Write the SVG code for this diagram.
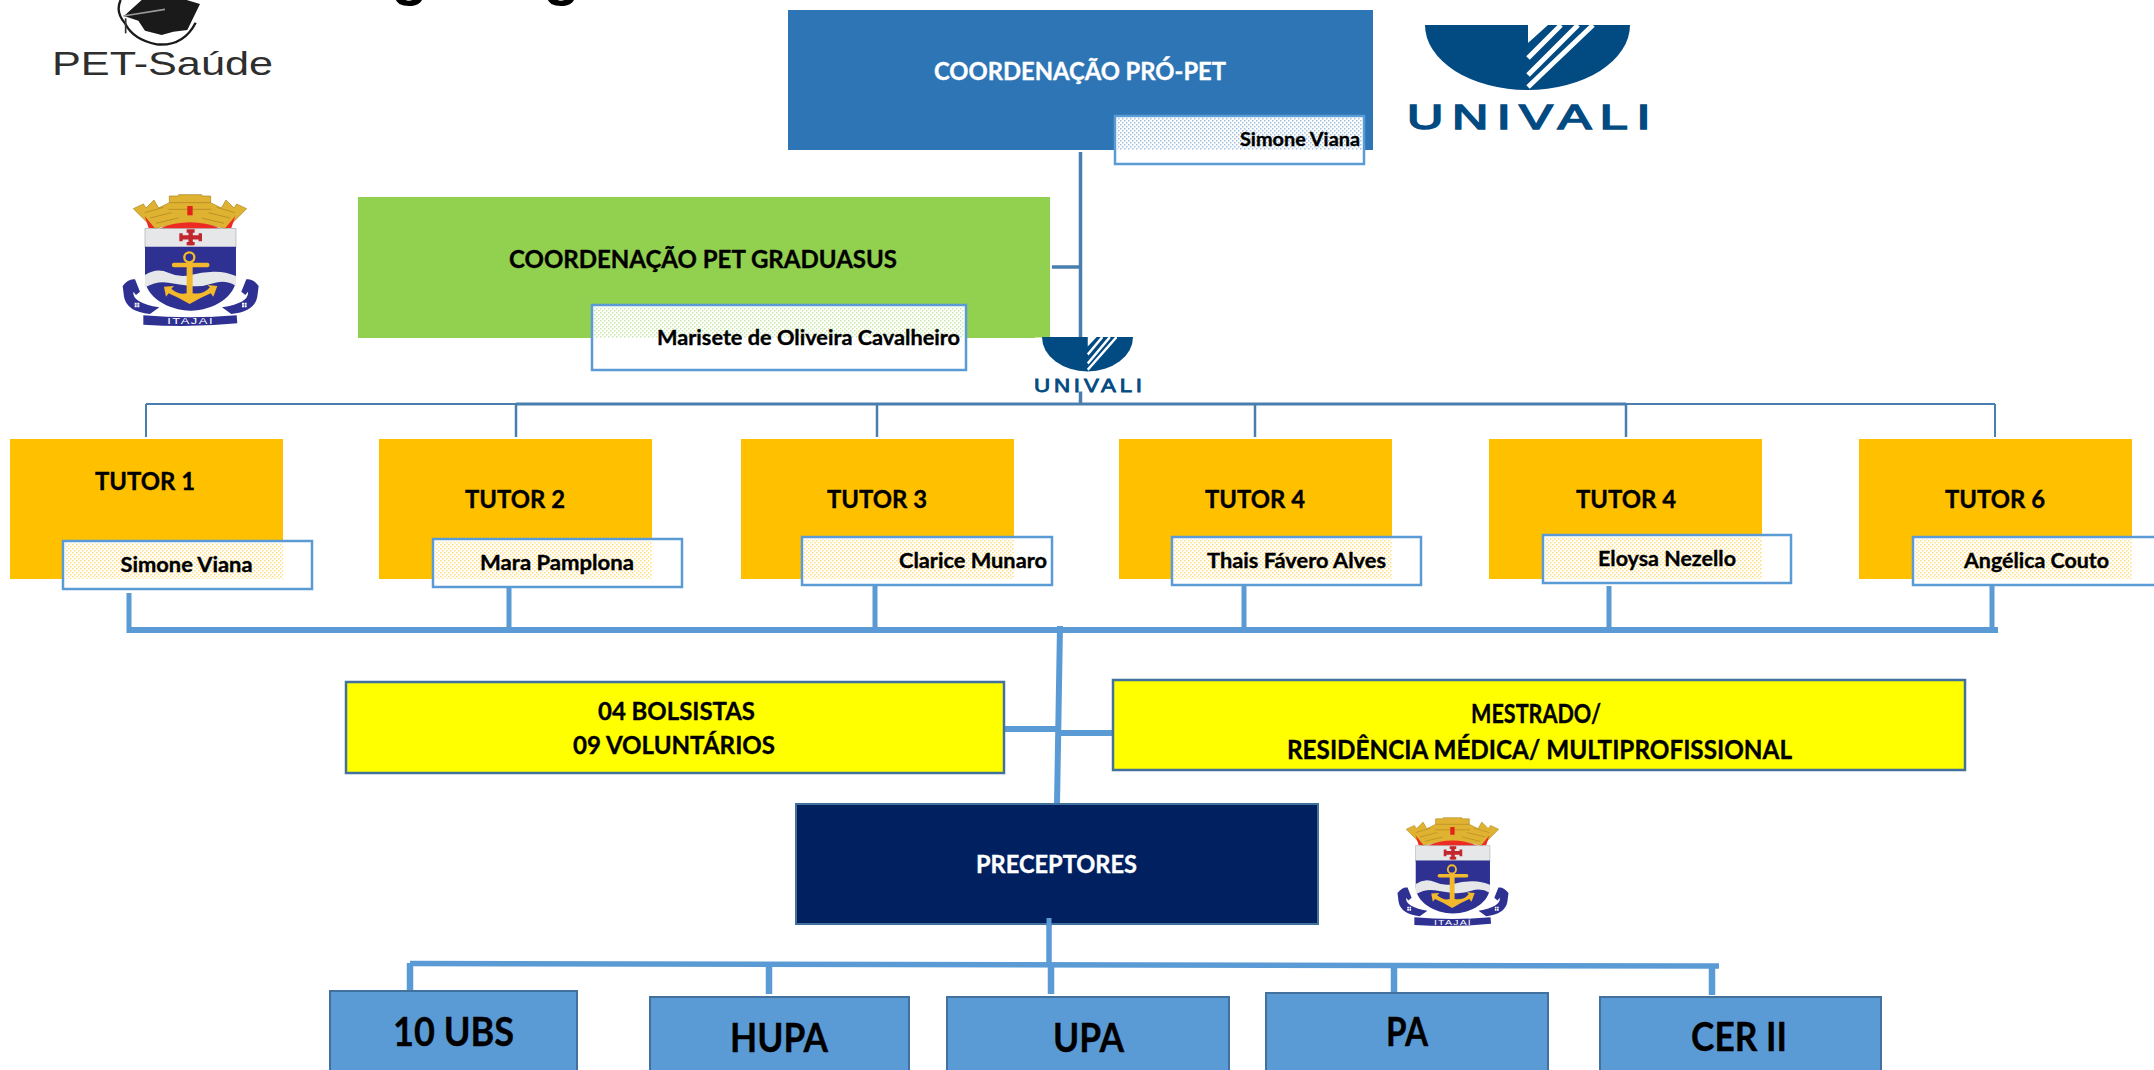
<svg xmlns="http://www.w3.org/2000/svg" xmlns:xlink="http://www.w3.org/1999/xlink" width="2154" height="1070" viewBox="0 0 2154 1070">
<style>
text{font-family:"Lato","Carlito","Liberation Sans",sans-serif;font-weight:700;fill:#000;stroke:#000;stroke-width:.35}
.w{fill:#fff;stroke:#fff}
.h{font-size:24.5px}
.n{font-size:20.5px}
.b{font-size:40px}
.y{font-size:26px}
.plain{font-family:"Liberation Sans",sans-serif;stroke:none}
.name{fill:#fff;stroke:#5b9bd5;stroke-width:2.5}
.tutor{fill:#ffc000}
.unit{fill:#5b9bd5;stroke:#41719c;stroke-width:2}
.yel{fill:#ff0;stroke:#41719c;stroke-width:2.5}
.c1{stroke:#4a7eaf;fill:none}
.c2{stroke:#5b9bd5;fill:none}
.logo{fill:#024a82}
</style>
<defs>
<pattern id="dBlue" width="4" height="4" patternUnits="userSpaceOnUse"><rect width="4" height="4" fill="#fff"/><rect width="1.5" height="1.5" fill="#2e75b6" fill-opacity=".45"/><rect x="2" y="2" width="1.5" height="1.5" fill="#2e75b6" fill-opacity=".45"/></pattern>
<pattern id="dGreen" width="4" height="4" patternUnits="userSpaceOnUse"><rect width="4" height="4" fill="#fff"/><rect width="1.5" height="1.5" fill="#92d050" fill-opacity=".5"/><rect x="2" y="2" width="1.5" height="1.5" fill="#92d050" fill-opacity=".5"/></pattern>
<pattern id="dGold" width="4" height="4" patternUnits="userSpaceOnUse"><rect width="4" height="4" fill="#fff"/><rect width="1.5" height="1.5" fill="#ffc000" fill-opacity=".5"/><rect x="2" y="2" width="1.5" height="1.5" fill="#ffc000" fill-opacity=".5"/></pattern>
<g id="univali">
<path class="logo" d="M1425 25H1630A102.5 65 0 0 1 1425 25Z"/>
<path fill="#fff" d="M1528 25H1548L1528 43Z"/>
<path d="M1561 25L1528 58M1578 25L1528 75M1593 25L1528 87" stroke="#fff" stroke-width="5" fill="none"/>
<text class="plain" x="1407" y="129" textLength="252" lengthAdjust="spacingAndGlyphs" style="font-weight:400;font-size:35px;letter-spacing:6px;fill:#024a82;stroke:#024a82;stroke-width:1.6">UNIVALI</text>
</g>
<g id="crest">
<path fill="#e0b232" stroke="#a8821c" stroke-width="2" d="M160 146L100 86L130 72L138 84L162 60L176 84L208 68L208 48L235 48L236 44L305 44L306 48L332 48L332 68L364 84L378 60L402 84L410 72L440 86L380 146Q270 116 160 146Z"/>
<path fill="none" stroke="#a8821c" stroke-width="2" d="M135 98L190 82M150 114L215 98M168 130L235 114M405 98L350 82M390 114L325 98M372 130L305 114M208 68H332M205 88H335"/>
<rect x="262" y="78" width="16" height="28" fill="#e2231a"/>
<path fill="#ee2a24" d="M178 146Q270 108 362 146ZM134 108L164 144L146 144ZM406 108L376 144L394 144Z"/>
<rect x="135" y="146" width="273" height="56" fill="#e6e7e8" stroke="#aaa" stroke-width="2"/>
<path fill="#2e3192" d="M135 200H408V295C408 350 340 392 272 392C204 392 135 350 135 295Z"/>
<path fill="#e6e7e8" d="M135 285Q170 262 205 278T272 285T340 275T408 288V318Q375 298 340 310T272 318T205 308T135 322Z"/>
<path stroke="#c1272d" stroke-width="13" fill="none" d="M272 150V196M240 172H304"/>
<path fill="#c1272d" d="M260 148h24v10h-24zM260 186h24v10h-24zM238 160h10v24h-10zM296 160h10v24h-10z"/>
<circle cx="268" cy="232" r="15" fill="none" stroke="#f2b92c" stroke-width="7"/>
<path stroke="#f2b92c" stroke-width="13" stroke-linecap="round" fill="none" d="M222 255H322"/>
<path fill="#f2b92c" d="M260 245H278V340Q310 345 330 322L322 315L352 318L340 350L332 340Q298 355 269 372Q240 355 206 340L198 350L192 320L222 318L214 326Q235 345 260 340Z"/>
<path fill="#2e3192" d="M68 318Q85 295 105 298L120 335L108 345L100 335Q95 368 178 382L150 402Q80 395 72 350Z"/>
<path fill="#2e3192" d="M476 318Q459 295 439 298L424 335L436 345L444 335Q449 368 366 382L394 402Q464 395 472 350Z"/>
<path fill="#fff" d="M104 368h6v6h-6zM112 368h6v6h-6zM104 376h6v6h-6zM112 376h6v6h-6zM426 368h6v6h-6zM434 368h6v6h-6zM426 376h6v6h-6zM434 376h6v6h-6z"/>
<path fill="#2e3192" d="M130 406Q270 418 410 406L412 430Q270 444 130 434Z"/>
<text class="plain" x="272" y="433" text-anchor="middle" textLength="140" lengthAdjust="spacingAndGlyphs" style="font-weight:400;font-size:26px;letter-spacing:3px;fill:#fff">ITAJAÍ</text>
</g>
</defs>

<rect width="2154" height="1070" fill="#fff"/>

<g id="title-remnant">
<text class="plain" x="409.5" y="-6" text-anchor="middle" style="font-size:60px">g</text>
<text class="plain" x="561.5" y="-6" text-anchor="middle" style="font-size:60px">g</text>
</g>

<g id="logo-pet-saude">
<g transform="translate(30 0) scale(.3333)">
<path fill="#1a1a1a" d="M335 0H470L510 12L472 90L430 95L395 105L345 92L325 62L282 48Z"/>
<path stroke="#9a9a9a" stroke-width="5" fill="none" d="M280 48L405 28"/>
<path stroke="#1a1a1a" stroke-width="7" fill="none" d="M272 0Q255 35 285 70Q310 120 380 133Q460 140 497 68"/>
<path stroke="#333" stroke-width="5" fill="none" d="M287 55V100"/>
</g>
<text class="plain" x="52" y="75" textLength="221" lengthAdjust="spacingAndGlyphs" style="font-weight:400;font-size:33px;fill:#2e2e2e">PET-Saúde</text>
</g>

<use id="logo-univali-top" xlink:href="#univali" href="#univali"/>
<use id="crest-top" xlink:href="#crest" href="#crest" transform="translate(100 180) scale(.3333)"/>
<use id="crest-bottom" xlink:href="#crest" href="#crest" transform="translate(1379 805.6) scale(.272 .275)"/>

<g id="connectors">
<path class="c1" stroke-width="3.5" d="M1080.5 152V404M1052 267H1080"/>
<path class="c1" stroke-width="2" d="M146 404H1995M146 404V437M1995 404V437"/>
<path class="c1" stroke-width="3" d="M516 404H1626"/>
<path class="c1" stroke-width="2.5" d="M516 404V437M877 404V437M1255 404V437M1626 404V437"/>
<path class="c2" stroke-width="6" d="M129 630H1998M1060 626L1057 804M1003 729H1058M1058 733H1113"/>
<path class="c2" stroke-width="5" d="M129 593V633M509 583V630M875 583V630M1244 583V630M1609 586V630M1992 586V630"/>
<path class="c2" stroke-width="5.5" d="M1049 920V965M410 963.5L1719 966"/>
<path class="c2" stroke-width="6.5" d="M410 963V992M769 965V994M1051 965V994M1394 965V993M1712 966V995"/>
</g>

<g id="node-pro-pet">
<rect x="788" y="10" width="585" height="140" fill="#2e75b6"/>
<text class="h w" x="934" y="80" textLength="292" lengthAdjust="spacingAndGlyphs">COORDENAÇÃO PRÓ-PET</text>
<rect class="name" x="1115" y="116" width="249" height="48"/>
<rect x="1117" y="118" width="245" height="32" fill="url(#dBlue)"/>
<text x="1240" y="146" textLength="120" lengthAdjust="spacingAndGlyphs" style="font-size:19px">Simone Viana</text>
</g>

<g id="node-graduasus">
<rect x="358" y="197" width="692" height="141" fill="#92d050"/>
<text class="h" x="509" y="268" textLength="388" lengthAdjust="spacingAndGlyphs">COORDENAÇÃO PET GRADUASUS</text>
<rect class="name" x="592" y="305" width="374" height="65"/>
<rect x="594" y="307" width="370" height="31" fill="url(#dGreen)"/>
<text class="n" x="657" y="345" textLength="303" lengthAdjust="spacingAndGlyphs">Marisete de Oliveira Cavalheiro</text>
</g>

<g id="logo-univali-small">
<rect x="1035" y="337.5" width="107" height="54" fill="#fff"/>
<use xlink:href="#univali" href="#univali" transform="translate(409.3 323.8) scale(.444 .529)"/>
</g>

<g id="node-tutor-1">
<rect class="tutor" x="10" y="439" width="273" height="140"/>
<text class="h" x="95" y="490" textLength="100" lengthAdjust="spacingAndGlyphs">TUTOR 1</text>
<rect class="name" x="63" y="541" width="249" height="48"/>
<rect x="65" y="543" width="218" height="36" fill="url(#dGold)"/>
<text class="n" x="120.5" y="572" textLength="132" lengthAdjust="spacingAndGlyphs">Simone Viana</text>
</g>
<g id="node-tutor-2">
<rect class="tutor" x="379" y="439" width="273" height="140"/>
<text class="h" x="465" y="508" textLength="100" lengthAdjust="spacingAndGlyphs">TUTOR 2</text>
<rect class="name" x="433" y="539" width="249" height="48"/>
<rect x="435" y="541" width="217" height="38" fill="url(#dGold)"/>
<text class="n" x="480" y="570" textLength="154" lengthAdjust="spacingAndGlyphs">Mara Pamplona</text>
</g>
<g id="node-tutor-3">
<rect class="tutor" x="741" y="439" width="273" height="140"/>
<text class="h" x="827" y="508" textLength="100" lengthAdjust="spacingAndGlyphs">TUTOR 3</text>
<rect class="name" x="802" y="537" width="250" height="48"/>
<rect x="804" y="539" width="210" height="40" fill="url(#dGold)"/>
<text class="n" x="899" y="568" textLength="148" lengthAdjust="spacingAndGlyphs">Clarice Munaro</text>
</g>
<g id="node-tutor-4a">
<rect class="tutor" x="1119" y="439" width="273" height="140"/>
<text class="h" x="1205" y="508" textLength="100" lengthAdjust="spacingAndGlyphs">TUTOR 4</text>
<rect class="name" x="1172" y="537" width="249" height="48"/>
<rect x="1174" y="539" width="218" height="40" fill="url(#dGold)"/>
<text class="n" x="1207" y="568" textLength="179" lengthAdjust="spacingAndGlyphs">Thais Fávero Alves</text>
</g>
<g id="node-tutor-4b">
<rect class="tutor" x="1489" y="439" width="273" height="140"/>
<text class="h" x="1576" y="508" textLength="100" lengthAdjust="spacingAndGlyphs">TUTOR 4</text>
<rect class="name" x="1543" y="535" width="248" height="48"/>
<rect x="1545" y="537" width="217" height="42" fill="url(#dGold)"/>
<text class="n" x="1598" y="566" textLength="138" lengthAdjust="spacingAndGlyphs">Eloysa Nezello</text>
</g>
<g id="node-tutor-6">
<rect class="tutor" x="1859" y="439" width="273" height="140"/>
<text class="h" x="1945" y="508" textLength="100" lengthAdjust="spacingAndGlyphs">TUTOR 6</text>
<rect class="name" x="1913" y="537" width="249" height="48"/>
<rect x="1915" y="539" width="217" height="40" fill="url(#dGold)"/>
<text class="n" x="1964" y="568" textLength="145" lengthAdjust="spacingAndGlyphs">Angélica Couto</text>
</g>

<g id="node-bolsistas">
<rect class="yel" x="346" y="682" width="658" height="91"/>
<text class="h" x="598" y="720" textLength="157" lengthAdjust="spacingAndGlyphs">04 BOLSISTAS</text>
<text class="h" x="573" y="754" textLength="202" lengthAdjust="spacingAndGlyphs">09 VOLUNTÁRIOS</text>
</g>
<g id="node-mestrado">
<rect class="yel" x="1113" y="680" width="852" height="90"/>
<text class="y" x="1471" y="723" textLength="130" lengthAdjust="spacingAndGlyphs">MESTRADO/</text>
<text class="y" x="1287" y="759" textLength="505" lengthAdjust="spacingAndGlyphs">RESIDÊNCIA MÉDICA/ MULTIPROFISSIONAL</text>
</g>
<g id="node-preceptores">
<rect x="796" y="804" width="522" height="120" fill="#002060" stroke="#41719c" stroke-width="2"/>
<text class="h w" x="976" y="873" textLength="161" lengthAdjust="spacingAndGlyphs">PRECEPTORES</text>
<path class="c2" stroke-width="5" d="M1049 918V926"/>
</g>
<g id="node-10ubs">
<rect class="unit" x="330" y="991" width="247" height="90"/>
<text class="b" x="393" y="1046" textLength="121" lengthAdjust="spacingAndGlyphs">10 UBS</text>
</g>
<g id="node-hupa">
<rect class="unit" x="650" y="997" width="259" height="84"/>
<text class="b" x="730" y="1052" textLength="98" lengthAdjust="spacingAndGlyphs">HUPA</text>
</g>
<g id="node-upa">
<rect class="unit" x="947" y="997" width="282" height="84"/>
<text class="b" x="1053" y="1052" textLength="71" lengthAdjust="spacingAndGlyphs">UPA</text>
</g>
<g id="node-pa">
<rect class="unit" x="1266" y="993" width="282" height="88"/>
<text class="b" x="1386" y="1046" textLength="42" lengthAdjust="spacingAndGlyphs">PA</text>
</g>
<g id="node-cer">
<rect class="unit" x="1600" y="997" width="281" height="84"/>
<text class="b" x="1691" y="1051" textLength="96" lengthAdjust="spacingAndGlyphs">CER II</text>
</g>
</svg>
